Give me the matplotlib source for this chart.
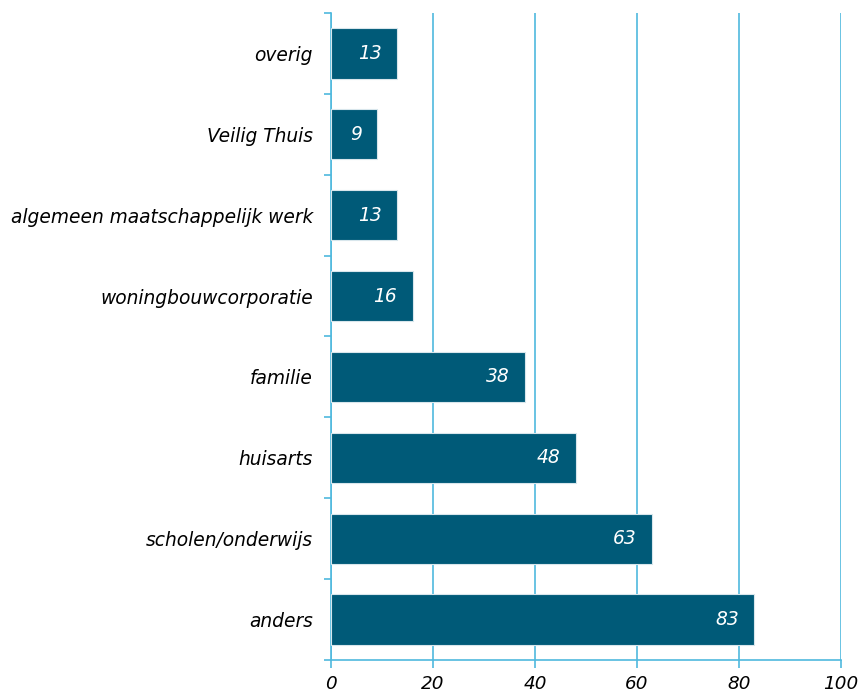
import matplotlib
matplotlib.use("Agg")
import matplotlib.pyplot as plt
import numpy as np

categories = ["anders", "scholen/onderwijs", "huisarts", "familie",
              "woningbouwcorporatie", "algemeen maatschappelijk werk",
              "Veilig Thuis", "overig"]
values = [83, 63, 48, 38, 16, 13, 9, 13]
xticks = [0, 20, 40, 60, 80, 100]

BAR = "#005a78"
LINE = "#4fb9de"
FS = 13.4

fig = plt.figure(figsize=(8.61, 6.95), dpi=100)
ax = fig.add_axes([0.3844, 0.0504, 0.5924, 0.9309])

y = np.arange(len(categories))
ax.barh(y, values, height=0.62, color=BAR, edgecolor="#d8e6ec",
        linewidth=0.8, zorder=3)

for yi, v in zip(y, values):
    ax.text(v - 3.0, yi, str(v), ha="right", va="center", color="white",
            fontsize=FS, fontstyle="italic", zorder=4)

ax.set_xlim(0, 100)
ax.set_ylim(-0.5, len(categories) - 0.5)
ax.set_xticks(xticks)
ax.set_xticklabels([str(t) for t in xticks], fontsize=13.2, fontstyle="italic")
ax.set_yticks(y)
ax.set_yticklabels(categories, fontsize=FS, fontstyle="italic")
ax.set_yticks(np.arange(-0.5, len(categories)), minor=True)

ax.tick_params(axis="y", which="major", length=0, pad=13)
ax.tick_params(axis="y", which="minor", length=5, width=1.2, color=LINE)
ax.tick_params(axis="x", length=6, width=1.2, color=LINE, pad=5)

ax.grid(axis="x", color=LINE, linewidth=1.2, zorder=0)
for s in ["top", "right"]:
    ax.spines[s].set_visible(False)
for s in ["left", "bottom"]:
    ax.spines[s].set_color(LINE)
    ax.spines[s].set_linewidth(1.2)

fig.savefig("out.png", dpi=100)
